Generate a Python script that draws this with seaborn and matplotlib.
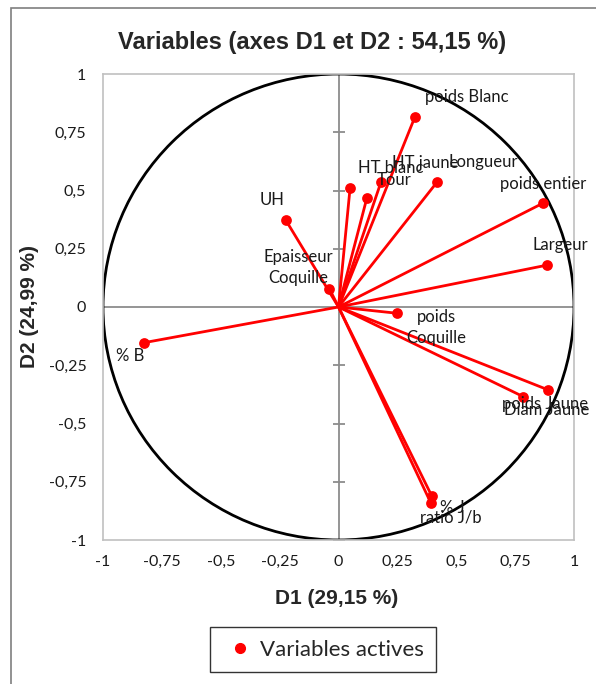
import numpy as np
import pandas as pd
import matplotlib
matplotlib.use("Agg")
import matplotlib.pyplot as plt
from matplotlib.patches import Circle, Rectangle
import seaborn as sns

# Correlation circle coordinates of the active variables on D1 / D2
variables = ["poids Blanc", "HT blanc", "Tour", "HT jaune", "Longueur",
             "poids entier", "Largeur", "UH", "Epaisseur\nCoquille", "% B",
             "poids\nCoquille", "poids Jaune", "Diam Jaune", "% J", "ratio J/b"]
d1 = [0.325, 0.049, 0.120, 0.180, 0.420, 0.867, 0.887, -0.224, -0.039, -0.825,
      0.250, 0.891, 0.785, 0.396, 0.393]
d2 = [0.817, 0.509, 0.466, 0.535, 0.538, 0.445, 0.180, 0.373, 0.079, -0.153,
      -0.027, -0.356, -0.385, -0.811, -0.843]

ticks = [-1, -0.75, -0.5, -0.25, 0, 0.25, 0.5, 0.75, 1]
tick_labels = ["-1", "-0,75", "-0,5", "-0,25", "0", "0,25", "0,5", "0,75", "1"]

title = "Variables (axes D1 et D2 : 54,15 %)"
xlabel = "D1 (29,15 %)"
ylabel = "D2 (24,99 %)"
legend_label = "Variables actives"

# label placement: pixel offsets from each point and horizontal alignment
label_offsets = [(10, 20), (8, 20), (10, 18), (11, 19), (11, 20),
                 (0, 19), (13, 20), (-1, 20), (-31, 21), (-14, -13),
                 (39, -14), (-3, -14), (23, -13), (8, -12), (20, -14)]
label_ha = ["left", "left", "left", "left", "left",
            "center", "center", "right", "center", "center",
            "center", "center", "center", "left", "center"]

df = pd.DataFrame({"variable": variables, "D1": d1, "D2": d2})

sns.set_theme(style="white")
plt.rcParams["font.family"] = ["Lato", "DejaVu Sans"]

fig = plt.figure(figsize=(5.96, 6.84), dpi=100)
ax = fig.add_axes([103 / 596, 1 - 540 / 684, 471 / 596, 466 / 684])

red = "#ff0000"

# zero axes, with tick marks on the vertical one
ax.axhline(0, color="#8c8c8c", lw=1.3, zorder=1)
ax.axvline(0, color="#8c8c8c", lw=1.3, zorder=1)
ax.plot([0] * len(ticks), ticks, ls="none", marker="_", ms=9, mew=1.3,
        color="#8c8c8c", zorder=1)

# unit circle
ax.add_patch(Circle((0, 0), 1, fill=False, ec="black", lw=2, zorder=2))

# vectors from the origin
for x, y in zip(df["D1"], df["D2"]):
    ax.plot([0, x], [0, y], color=red, lw=2, zorder=3, solid_capstyle="butt")

sns.scatterplot(data=df, x="D1", y="D2", ax=ax, color=red, s=60,
                edgecolor=red, linewidth=0, zorder=4, legend=False)

for name, x, y, (dx, dy), ha in zip(df["variable"], df["D1"], df["D2"],
                                     label_offsets, label_ha):
    ax.annotate(name, (x, y), xytext=(dx, dy), textcoords="offset pixels",
                ha=ha, va="center", fontsize=12, color="#1a1a1a",
                linespacing=1.35, multialignment="center", zorder=5,
                annotation_clip=False)

ax.set_xlim(-1, 1)
ax.set_ylim(-1, 1)
ax.set_xticks(ticks)
ax.set_xticklabels(tick_labels)
ax.set_yticks(ticks)
ax.set_yticklabels(tick_labels)
ax.tick_params(axis="x", length=0, pad=11, labelsize=11.5, labelcolor="#1a1a1a")
ax.tick_params(axis="y", length=0, pad=12, labelsize=11.5, labelcolor="#1a1a1a")
for sp in ax.spines.values():
    sp.set_color("#c0c0c0")
    sp.set_linewidth(1.2)
ax.set_xlabel("")
ax.set_ylabel("")

bold = dict(family=["Liberation Sans", "DejaVu Sans"], weight="bold")
fig.text(312 / 596, 1 - 43 / 684, title, ha="center", va="center",
         fontsize=17, **bold)
fig.text(337 / 596, 1 - 598 / 684, xlabel, ha="center", va="center",
         fontsize=15, **bold)
fig.text(30 / 596, 1 - 306 / 684, ylabel, ha="center", va="center",
         fontsize=15, rotation=90, **bold)

handles = [plt.Line2D([], [], ls="none", marker="o", ms=7, color=red)]
leg = fig.legend(handles, [legend_label], loc="center",
                 bbox_to_anchor=(323 / 596, 1 - 649.5 / 684),
                 fontsize=16, frameon=True, fancybox=False,
                 handletextpad=0.1, handlelength=1.6, borderpad=0.55,
                 borderaxespad=0)
leg.get_frame().set_edgecolor("#000000")
leg.get_frame().set_linewidth(1.0)

# outer chart border
fig.add_artist(Rectangle((11 / 596, -0.1), 1.2, 1 - 8 / 684 + 0.1,
                         transform=fig.transFigure, fill=False,
                         ec="#7f7f7f", lw=1.2))

fig.savefig("out.png", dpi=100, facecolor="white")
